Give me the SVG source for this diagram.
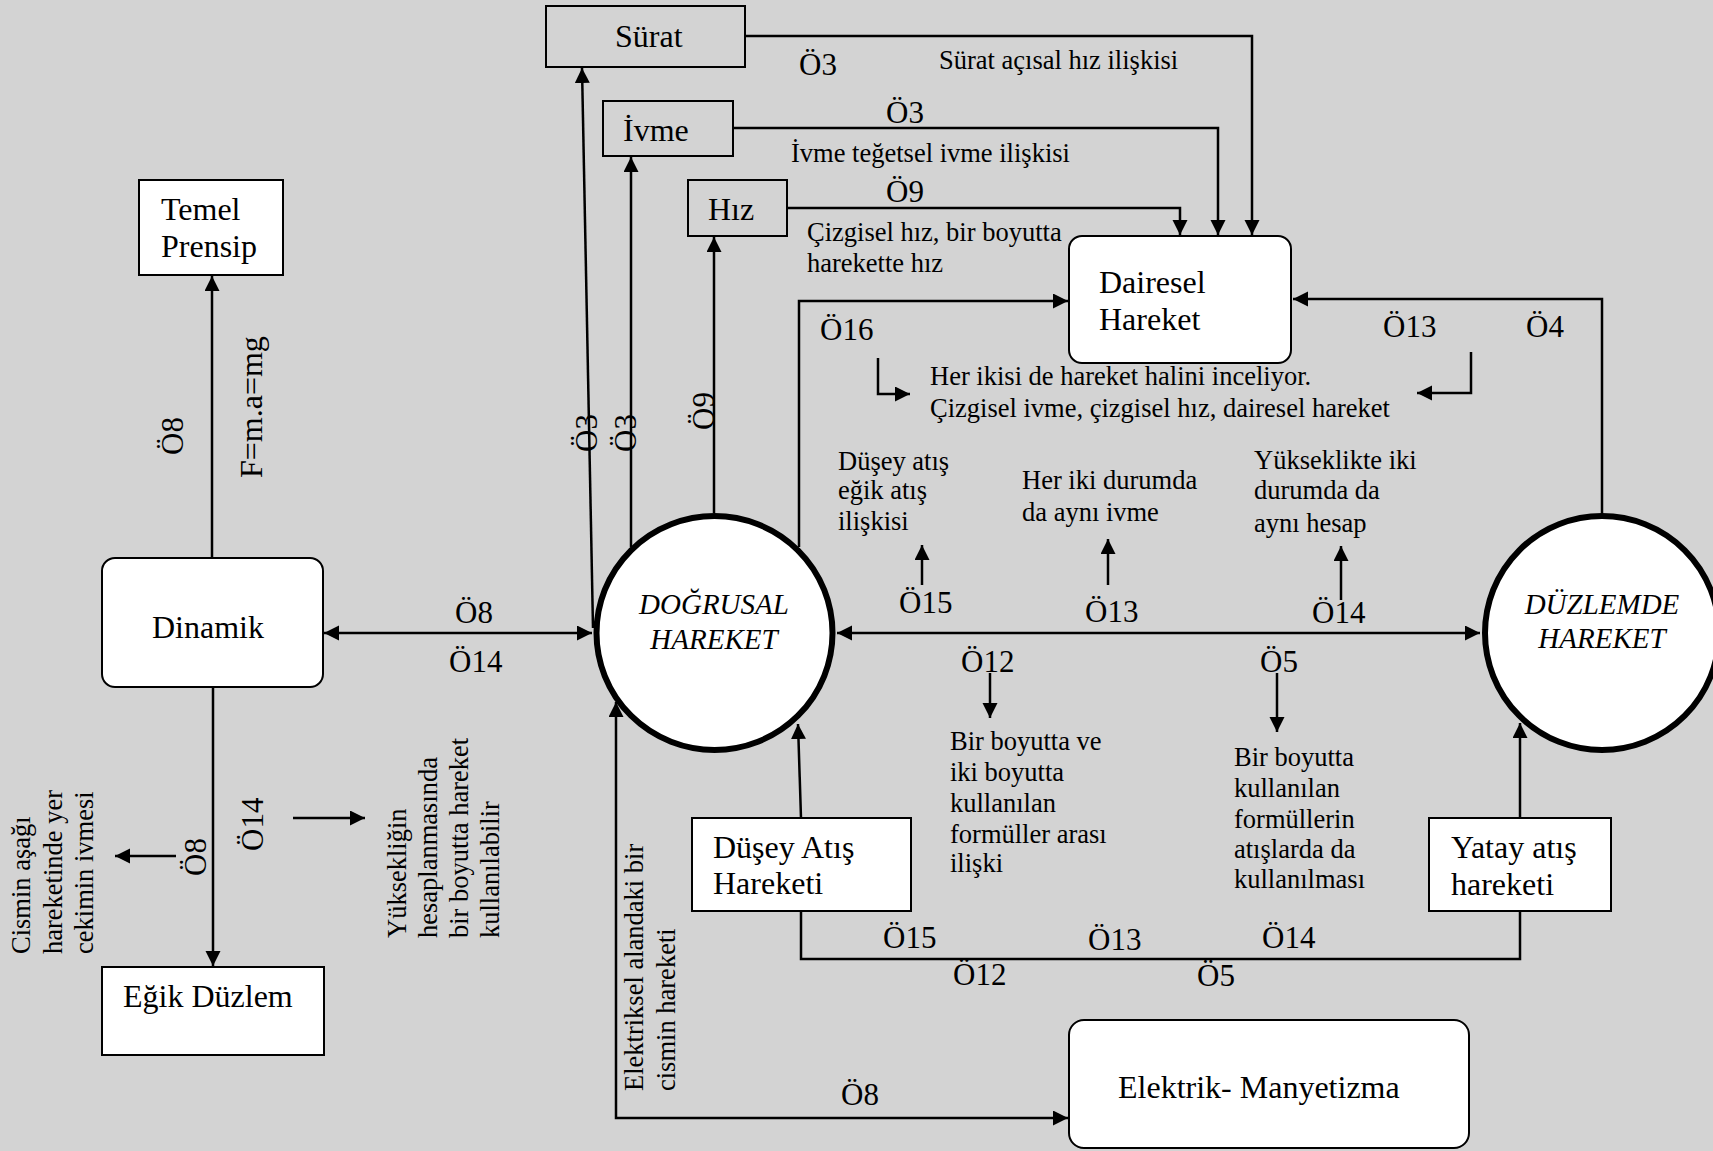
<svg xmlns="http://www.w3.org/2000/svg" width="1713" height="1151" viewBox="0 0 1713 1151">
<style>
.bg{fill:#d3d3d3}
.box{fill:#fff;stroke:#000;stroke-width:2}
.obox{fill:none;stroke:#000;stroke-width:2}
.circ{fill:#fff;stroke:#000;stroke-width:6}
.big{font-family:"Liberation Serif","Times New Roman",serif;font-size:32px;fill:#000}
.lab{font-family:"Liberation Serif","Times New Roman",serif;font-size:31px;fill:#000}
.sm{font-family:"Liberation Serif","Times New Roman",serif;font-size:26.5px;fill:#000}
.it{font-family:"Liberation Serif","Times New Roman",serif;font-size:29px;font-style:italic;fill:#000}
.ln{fill:none;stroke:#000;stroke-width:2.5}
.a{marker-end:url(#ah)}
.aa{marker-end:url(#ah);marker-start:url(#ahs)}
</style>
<defs>
<marker id="ah" markerUnits="userSpaceOnUse" markerWidth="16" markerHeight="16" refX="15" refY="7.5" orient="auto"><path d="M0,0 L15,7.5 L0,15 z" fill="#000"/></marker>
<marker id="ahs" markerUnits="userSpaceOnUse" markerWidth="16" markerHeight="16" refX="15" refY="7.5" orient="auto-start-reverse"><path d="M0,0 L15,7.5 L0,15 z" fill="#000"/></marker>
</defs>
<rect class="bg" x="0" y="0" width="1713" height="1151"/>

<g id="connectors">
<path class="ln a" d="M212,558 L212,276"/>
<path class="ln a" d="M213,687 L213,966"/>
<path class="ln aa" d="M324,633 L592,633"/>
<path class="ln a" d="M593,628 L582,68"/>
<path class="ln a" d="M631,547 L631,157"/>
<path class="ln a" d="M714,513 L714,237"/>
<path class="ln a" d="M799,547 L799,301 L1068,301"/>
<path class="ln a" d="M745,36 L1252,36 L1252,235"/>
<path class="ln a" d="M733,128 L1218,128 L1218,235"/>
<path class="ln a" d="M787,208 L1180,208 L1180,235"/>
<path class="ln a" d="M1602,515 L1602,299 L1293,299"/>
<path class="ln aa" d="M837,633 L1480,633"/>
<path class="ln a" d="M801,818 L798,724"/>
<path class="ln a" d="M1520,818 L1520,723"/>
<path class="ln" d="M801,911 L801,959 L1520,959 L1520,911"/>
<path class="ln aa" d="M616,702 L616,1118 L1068,1118"/>
<path class="ln a" d="M922,585 L922,545"/>
<path class="ln a" d="M1108,585 L1108,539"/>
<path class="ln a" d="M1341,600 L1341,546"/>
<path class="ln a" d="M990,673 L990,718"/>
<path class="ln a" d="M1277,673 L1277,732"/>
<path class="ln a" d="M878,358 L878,394 L910,394"/>
<path class="ln a" d="M1471,352 L1471,393 L1417,393"/>
<path class="ln a" d="M176,856 L115,856"/>
<path class="ln a" d="M293,818 L365,818"/>
</g>

<g id="labels">
<text class="lab" transform="translate(183,455) rotate(-90)">Ö8</text>
<text class="big" transform="translate(262,478) rotate(-90)">F=m.a=mg</text>
<text class="lab" transform="translate(597,452) rotate(-90)">Ö3</text>
<text class="lab" transform="translate(636,452) rotate(-90)">Ö3</text>
<text class="lab" transform="translate(714,430) rotate(-90)">Ö9</text>
<text class="lab" transform="translate(206,876) rotate(-90)">Ö8</text>
<text class="lab" transform="translate(263,851) rotate(-90)">Ö14</text>
<text class="sm" transform="translate(30,954) rotate(-90)">Cismin aşağı</text>
<text class="sm" transform="translate(62,954) rotate(-90)">hareketinde yer</text>
<text class="sm" transform="translate(93,954) rotate(-90)">cekimin ivmesi</text>
<text class="sm" transform="translate(406,938) rotate(-90)">Yüksekliğin</text>
<text class="sm" transform="translate(437,938) rotate(-90)">hesaplanmasında</text>
<text class="sm" transform="translate(468,938) rotate(-90)">bir boyutta hareket</text>
<text class="sm" transform="translate(499,938) rotate(-90)">kullanılabilir</text>
<text class="sm" transform="translate(643,1091) rotate(-90)">Elektriksel alandaki bir</text>
<text class="sm" transform="translate(675,1091) rotate(-90)">cismin hareketi</text>
<text class="lab" x="455" y="623">Ö8</text>
<text class="lab" x="449" y="672">Ö14</text>
<text class="lab" x="799" y="75">Ö3</text>
<text class="sm" x="939" y="69">Sürat açısal hız ilişkisi</text>
<text class="lab" x="886" y="123">Ö3</text>
<text class="sm" x="791" y="162">İvme teğetsel ivme ilişkisi</text>
<text class="lab" x="886" y="202">Ö9</text>
<text class="sm" x="807" y="241">Çizgisel hız, bir boyutta</text>
<text class="sm" x="807" y="272">harekette hız</text>
<text class="lab" x="820" y="340">Ö16</text>
<text class="lab" x="1383" y="337">Ö13</text>
<text class="lab" x="1526" y="337">Ö4</text>
<text class="sm" x="930" y="385">Her ikisi de hareket halini inceliyor.</text>
<text class="sm" x="930" y="417">Çizgisel ivme, çizgisel hız, dairesel hareket</text>
<text class="sm" x="838" y="470">Düşey atış</text>
<text class="sm" x="838" y="499">eğik atış</text>
<text class="sm" x="838" y="530">ilişkisi</text>
<text class="sm" x="1022" y="489">Her iki durumda</text>
<text class="sm" x="1022" y="521">da aynı ivme</text>
<text class="sm" x="1254" y="469">Yükseklikte iki</text>
<text class="sm" x="1254" y="499">durumda da</text>
<text class="sm" x="1254" y="532">aynı hesap</text>
<text class="lab" x="899" y="613">Ö15</text>
<text class="lab" x="1085" y="622">Ö13</text>
<text class="lab" x="1312" y="623">Ö14</text>
<text class="lab" x="961" y="672">Ö12</text>
<text class="lab" x="1260" y="672">Ö5</text>
<text class="sm" x="950" y="750">Bir boyutta ve</text>
<text class="sm" x="950" y="781">iki boyutta</text>
<text class="sm" x="950" y="812">kullanılan</text>
<text class="sm" x="950" y="843">formüller arası</text>
<text class="sm" x="950" y="872">ilişki</text>
<text class="sm" x="1234" y="766">Bir boyutta</text>
<text class="sm" x="1234" y="797">kullanılan</text>
<text class="sm" x="1234" y="828">formüllerin</text>
<text class="sm" x="1234" y="858">atışlarda da</text>
<text class="sm" x="1234" y="888">kullanılması</text>
<text class="lab" x="883" y="948">Ö15</text>
<text class="lab" x="1088" y="950">Ö13</text>
<text class="lab" x="1262" y="948">Ö14</text>
<text class="lab" x="953" y="985">Ö12</text>
<text class="lab" x="1197" y="986">Ö5</text>
<text class="lab" x="841" y="1105">Ö8</text>
</g>

<g id="temel">
<rect class="box" x="139" y="180" width="144" height="95"/>
<text class="big" x="161" y="220">Temel</text>
<text class="big" x="161" y="257">Prensip</text>
</g>
<g id="dinamik">
<rect class="box" x="102" y="558" width="221" height="129" rx="13"/>
<text class="big" x="152" y="638">Dinamik</text>
</g>
<g id="egik">
<rect class="box" x="102" y="967" width="222" height="88"/>
<text class="big" x="123" y="1007">Eğik Düzlem</text>
</g>
<g id="surat">
<rect class="obox" x="546" y="6" width="199" height="61"/>
<text class="big" x="615" y="47">Sürat</text>
</g>
<g id="ivme">
<rect class="obox" x="603" y="101" width="130" height="55"/>
<text class="big" x="623" y="141">İvme</text>
</g>
<g id="hiz">
<rect class="obox" x="688" y="180" width="99" height="56"/>
<text class="big" x="708" y="220">Hız</text>
</g>
<g id="dairesel">
<rect class="box" x="1069" y="236" width="222" height="127" rx="13"/>
<text class="big" x="1099" y="293">Dairesel</text>
<text class="big" x="1099" y="330">Hareket</text>
</g>
<g id="dogrusal">
<ellipse class="circ" cx="714.5" cy="633" rx="118" ry="117"/>
<text class="it" x="714" y="614" text-anchor="middle">DOĞRUSAL</text>
<text class="it" x="714" y="649" text-anchor="middle">HAREKET</text>
</g>
<g id="duzlemde">
<ellipse class="circ" cx="1602" cy="633" rx="117" ry="117"/>
<text class="it" x="1602" y="614" text-anchor="middle">DÜZLEMDE</text>
<text class="it" x="1602" y="648" text-anchor="middle">HAREKET</text>
</g>
<g id="dusey">
<rect class="box" x="692" y="818" width="219" height="93"/>
<text class="big" x="713" y="858">Düşey Atış</text>
<text class="big" x="713" y="894">Hareketi</text>
</g>
<g id="yatay">
<rect class="box" x="1429" y="818" width="182" height="93"/>
<text class="big" x="1451" y="858">Yatay atış</text>
<text class="big" x="1451" y="895">hareketi</text>
</g>
<g id="elektrik">
<rect class="box" x="1069" y="1020" width="400" height="128" rx="15"/>
<text class="big" x="1118" y="1098">Elektrik- Manyetizma</text>
</g>
</svg>
